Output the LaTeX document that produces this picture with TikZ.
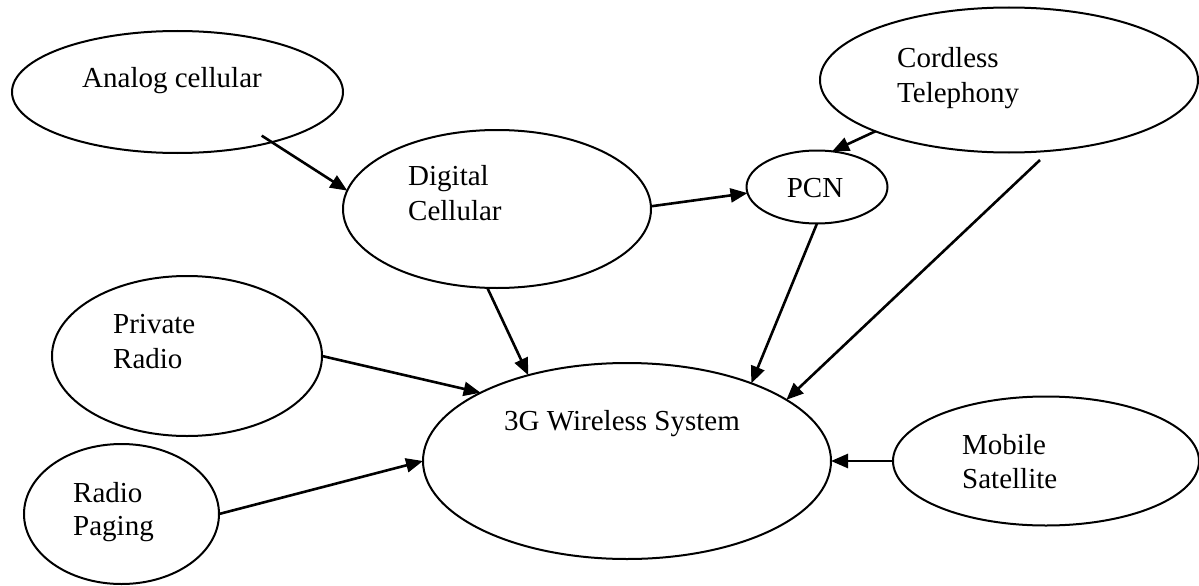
\documentclass[tikz,border=0pt]{standalone}
\usepackage{fontspec}
\setmainfont{Liberation Serif}
\usetikzlibrary{arrows.meta,shapes.geometric}
\begin{document}
\begin{tikzpicture}[x=1pt,y=-1pt,
  oval/.style={draw, ellipse, line width=2pt, inner sep=0pt, outer sep=0pt},
  lbl/.style={anchor=base west, inner sep=0pt, font=\fontsize{29}{35}\selectfont},
  link/.style={line width=2.6pt, -{Triangle[length=17pt,width=14pt]}}]
\useasboundingbox (0,0) rectangle (1199,586);

% technologies
\node[oval, minimum width=331pt, minimum height=122pt] (ana)  at (177.5,92) {};
\node[oval, minimum width=308pt, minimum height=158pt] (dig)  at (497,209) {};
\node[oval, minimum width=141pt, minimum height=73pt]  (pcn)  at (817,187) {};
\node[oval, minimum width=378pt, minimum height=145pt] (cord) at (1009,80) {};
\node[oval, minimum width=270pt, minimum height=160pt] (priv) at (187,356) {};
\node[oval, minimum width=195pt, minimum height=140pt] (pag)  at (121.5,514) {};
\node[oval, minimum width=408pt, minimum height=196pt] (g3)   at (627,461) {};
\node[oval, minimum width=306pt, minimum height=129pt] (mob)  at (1046,461) {};

% labels
\node[lbl] (tana)  at (82,87)   {Analog cellular};
\node[lbl] (tdig1) at (408,185) {Digital};
\node[lbl] (tdig2) at (408,220) {Cellular};
\node[lbl, anchor=base] (tpcn) at (815,197) {PCN};
\node[lbl] (tcor1) at (897,67)  {Cordless};
\node[lbl] (tcor2) at (897,102) {Telephony};
\node[lbl] (tpri1) at (113,333) {Private};
\node[lbl] (tpri2) at (113,368) {Radio};
\node[lbl] (tpag1) at (73,502)  {Radio};
\node[lbl] (tpag2) at (73,535)  {Paging};
\node[lbl] (tg3)   at (504,430) {3G Wireless System};
\node[lbl] (tmob1) at (962,454) {Mobile};
\node[lbl] (tmob2) at (962,488) {Satellite};

% evolution paths
\coordinate (cordtail) at (1040,160);
\draw[link, shorten <=-12pt] (ana.-28) -- (dig.173);
\draw[link] (dig.1) -- (pcn.185);
\draw[link] (cord.-159) -- (pcn.67);
\draw[link] (dig.-97) -- (g3.139.6);
\draw[link] (pcn.-90) -- (g3.32);
\draw[link] (cordtail) -- (g3.21);
\draw[link] (priv.0) -- (g3.155.5);
\draw[link] (pag.0) -- (g3.180);
\draw[link] (mob.180) -- (g3.0);
\end{tikzpicture}
\end{document}
